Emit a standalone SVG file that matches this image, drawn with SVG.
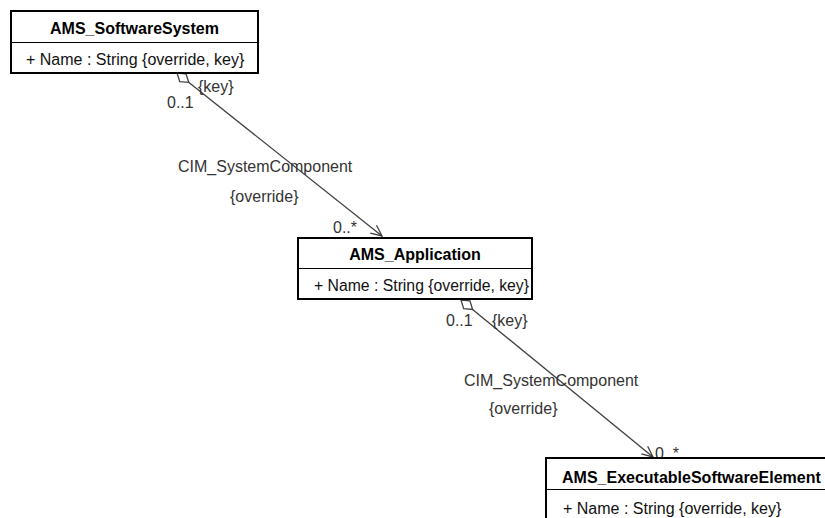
<svg xmlns="http://www.w3.org/2000/svg" width="825" height="518" viewBox="0 0 825 518">
<style>
.box{fill:#fff;stroke:#000;stroke-width:2}
.div{stroke:#000;stroke-width:1}
.title{font-family:"Liberation Sans",Arial,sans-serif;font-size:16px;font-weight:bold;fill:#000}
.attr{font-family:"Liberation Sans",Arial,sans-serif;font-size:16px;fill:#111}
.lbl{font-family:"Liberation Sans",Arial,sans-serif;font-size:16px;fill:#333}
.conn{stroke:#404040;stroke-width:1.3;fill:none}
</style>
<defs>
<marker id="diamond" markerUnits="userSpaceOnUse" viewBox="-1 -7 18 14" markerWidth="18" markerHeight="14" refX="0" refY="0" orient="auto">
<path d="M0,0 L7.5,-5 L15,0 L7.5,5 Z" fill="#fff" stroke="#404040" stroke-width="1.3"/>
</marker>
<marker id="arrow" markerUnits="userSpaceOnUse" viewBox="-13 -7 14 14" markerWidth="14" markerHeight="14" refX="0" refY="0" orient="auto">
<path d="M-11,-5 L0,0 L-11,5" fill="none" stroke="#404040" stroke-width="1.3"/>
</marker>
</defs>
<rect width="825" height="518" fill="#fff"/>
<g id="connectors">
<g id="assoc1">
<line class="conn" x1="177" y1="73" x2="382" y2="236" marker-start="url(#diamond)" marker-end="url(#arrow)"/>
<text class="lbl" x="198" y="92">{key}</text>
<text class="lbl" x="167" y="108">0..1</text>
<text class="lbl" x="178" y="172">CIM_SystemComponent</text>
<text class="lbl" x="230" y="202">{override}</text>
<text class="lbl" x="333" y="233">0..*</text>
</g>
<g id="assoc2">
<line class="conn" x1="461" y1="300" x2="653" y2="457" marker-start="url(#diamond)" marker-end="url(#arrow)"/>
<text class="lbl" x="492" y="326">{key}</text>
<text class="lbl" x="446" y="326">0..1</text>
<text class="lbl" x="464" y="386">CIM_SystemComponent</text>
<text class="lbl" x="489" y="414">{override}</text>
<text class="lbl" x="655" y="459">0..*</text>
</g>
</g>
<g id="AMS_SoftwareSystem">
<rect class="box" x="11" y="11" width="247" height="62"/>
<line class="div" x1="11" y1="42.5" x2="258" y2="42.5"/>
<text class="title" x="134.5" y="34" text-anchor="middle">AMS_SoftwareSystem</text>
<text class="attr" x="26" y="65">+ Name : String {override, key}</text>
</g>
<g id="AMS_Application">
<rect class="box" x="298" y="238" width="234" height="61"/>
<line class="div" x1="298" y1="268.5" x2="532" y2="268.5"/>
<text class="title" x="415" y="260" text-anchor="middle">AMS_Application</text>
<text class="attr" x="314" y="291" textLength="215" lengthAdjust="spacingAndGlyphs">+ Name : String {override, key}</text>
</g>
<g id="AMS_ExecutableSoftwareElement">
<rect class="box" x="546" y="458" width="290" height="70"/>
<line class="div" x1="546" y1="489.5" x2="836" y2="489.5"/>
<text class="title" x="562" y="483">AMS_ExecutableSoftwareElement</text>
<text class="attr" x="563" y="514">+ Name : String {override, key}</text>
</g>
</svg>
